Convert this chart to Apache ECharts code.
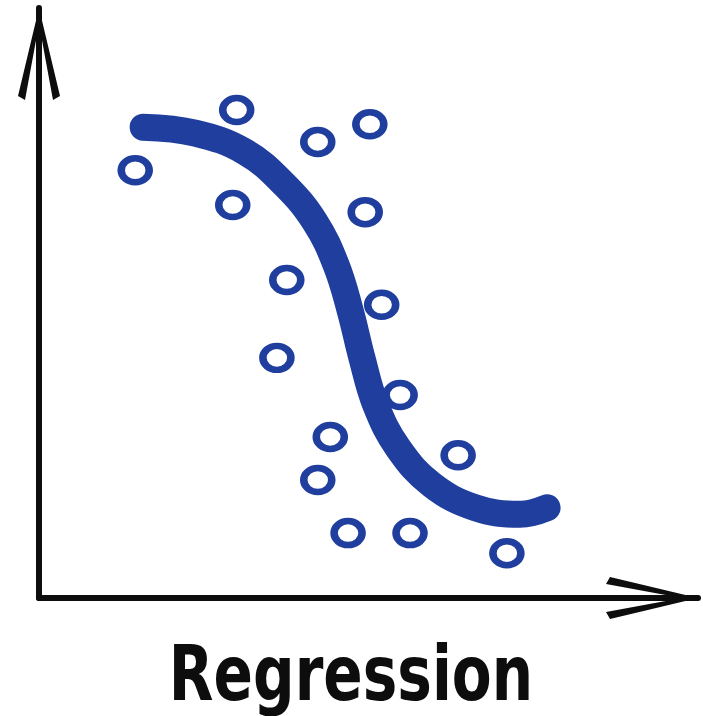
<!DOCTYPE html>
<html>
<head>
<meta charset="utf-8">
<script src="https://cdn.jsdelivr.net/npm/echarts@6/dist/echarts.min.js"></script>
<style>
html,body{margin:0;padding:0;background:#fff;}
#chart{width:703px;height:716px;}
</style>
</head>
<body>
<div id="chart"></div>
<script>
// Scattered observations (x, y) in 0-100 units
const pointX = [14.6, 30.0, 42.3, 50.2, 29.4, 49.5, 37.6, 52.0, 36.1, 54.8, 44.2, 63.6, 42.3, 46.9, 56.3, 71.0];
const pointY = [72.5, 82.7, 77.3, 80.3, 66.6, 65.4, 53.9, 49.7, 40.7, 34.4, 27.3, 24.2, 20.0, 11.0, 11.0, 7.6];

// Fitted (sigmoid-like) regression curve
const curveX = [15.8, 23.7, 31.3, 37.3, 41.9, 45.1, 47.2, 49.0, 51.1, 54.5, 59.6, 66.2, 73.0, 77.1];
const curveY = [79.8, 78.8, 75.6, 70.0, 63.7, 56.4, 48.8, 40.7, 32.7, 25.4, 19.2, 15.3, 14.2, 15.3];

const titleText = 'Regression';

const BLUE = '#1f3e9e';
const INK = '#0d0d0d';
const chevron = 'path://M21,0 L42,88 L35,92 L21,16 L7,92 L0,88 Z';

const chart = echarts.init(document.getElementById('chart'));

const axisCommon = {
  type: 'value', min: 0, max: 100,
  axisLine: {
    show: true, onZero: false,
    lineStyle: { color: INK, width: 6 },
    symbol: ['none', chevron],
    symbolSize: [42, 92],
    symbolOffset: [0, -46]
  },
  axisTick: { show: false },
  axisLabel: { show: false },
  splitLine: { show: false }
};

chart.setOption({
  backgroundColor: '#ffffff',
  animation: false,
  graphic: [{
    type: 'text',
    x: 351,
    y: 718,
    scaleX: 0.85,
    style: {
      text: titleText,
      fill: INK,
      font: 'bold 76px "DejaVu Sans Condensed", "DejaVu Sans", sans-serif',
      textAlign: 'center',
      textVerticalAlign: 'bottom'
    }
  }],
  grid: { left: 39, right: 5, top: 8, bottom: 118 },
  xAxis: axisCommon,
  yAxis: axisCommon,
  series: [
    {
      type: 'line',
      data: curveX.map((x, i) => [x, curveY[i]]),
      smooth: 0.4,
      showSymbol: false,
      lineStyle: { color: BLUE, width: 27, cap: 'round', join: 'round' },
      z: 2
    },
    {
      type: 'scatter',
      data: pointX.map((x, i) => [x, pointY[i]]),
      symbol: 'circle',
      symbolSize: [28, 24],
      itemStyle: { color: 'rgba(255,255,255,0)', borderColor: BLUE, borderWidth: 7, opacity: 1 },
      z: 3
    }
  ]
});
</script>
</body>
</html>
